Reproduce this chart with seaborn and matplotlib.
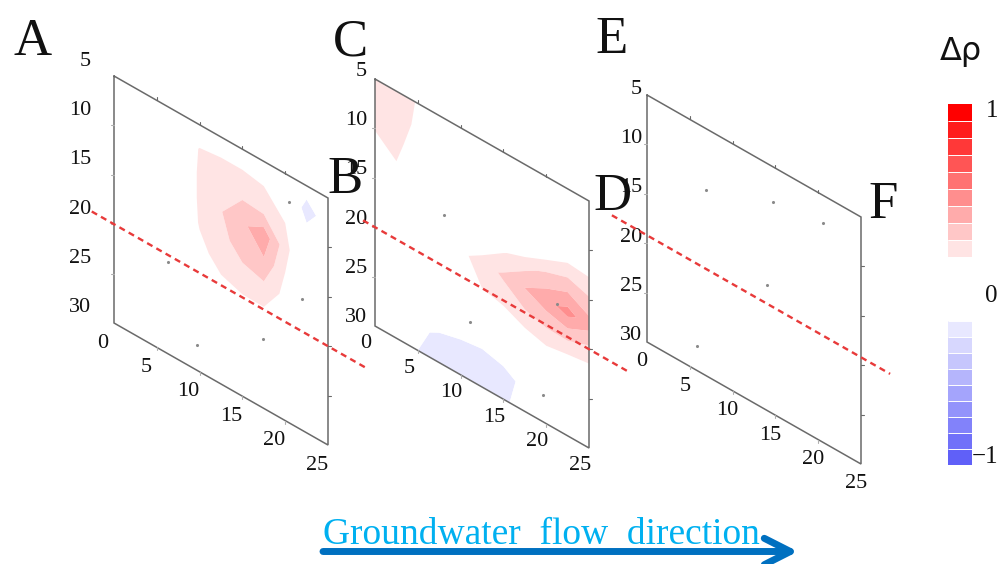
import numpy as np
import matplotlib
matplotlib.use("Agg")
import matplotlib.pyplot as plt
from matplotlib.transforms import Affine2D
from matplotlib.colors import ListedColormap, BoundaryNorm
from matplotlib.cm import ScalarMappable
import seaborn as sns

# ------------------------------------------------------------------ data
panel_labels = ["A", "C", "E"]
corner_labels = ["B", "D", "F"]
x_ticks = [0, 5, 10, 15, 20, 25]          # horizontal distance
depth_ticks = [5, 10, 15, 20, 25, 30]     # depth axis
grid_x = [0, 2.5, 5, 7.5, 10, 12.5, 15, 17.5, 20, 22.5, 25]
grid_depth = [5, 7.5, 10, 12.5, 15, 17.5, 20, 22.5, 25, 27.5, 30]

# delta rho (rows = depth, cols = x)
drho_A = [
    [0, 0, 0, 0, 0, 0, 0, 0, 0, -0.10, 0],
    [0, 0, 0, 0, 0.16, 0.18, 0.18, 0.15, 0.05, -0.28, -0.10],
    [0, 0, 0, 0.02, 0.17, 0.22, 0.24, 0.22, 0.15, -0.12, 0],
    [0, 0, 0, 0.02, 0.17, 0.24, 0.32, 0.40, 0.19, 0, 0],
    [0, 0, 0, 0.02, 0.16, 0.22, 0.28, 0.33, 0.15, 0, 0],
    [0, 0, 0, 0, 0.12, 0.19, 0.22, 0.23, 0.12, 0, 0],
    [0, 0, 0, 0, 0.02, 0.12, 0.14, 0.14, 0.05, 0, 0],
    [0, 0, 0, 0, 0, 0, 0, 0, 0, 0, 0],
    [0, 0, 0, 0, 0, 0, 0, 0, 0, 0, 0],
    [0, 0, 0, 0, 0, 0, 0, 0, 0, 0, 0],
    [0, 0, 0, 0, 0, 0, 0, 0, 0, 0, 0],
]
drho_C = [
    [0.22, 0.22, 0.14, 0, 0, 0, 0, 0, 0, 0, 0],
    [0.20, 0.22, 0.12, 0, 0, 0, 0, 0, 0, 0, 0],
    [0.16, 0.20, 0.05, 0, 0, 0, 0, 0, 0, 0, 0],
    [0.05, 0.14, 0, 0, 0, 0, 0, 0, 0.08, 0.15, 0.14],
    [0, 0, 0, 0, 0, 0.05, 0.14, 0.20, 0.27, 0.31, 0.26],
    [0, 0, 0, 0, 0.12, 0.20, 0.26, 0.34, 0.40, 0.47, 0.38],
    [0, 0, 0, 0, 0.06, 0.15, 0.18, 0.23, 0.26, 0.27, 0.22],
    [0, 0, 0, 0, 0, 0, 0.04, 0.10, 0.13, 0.10, 0.10],
    [0, 0, 0, -0.05, -0.12, -0.15, -0.12, 0, 0, 0, 0],
    [0, 0, -0.15, -0.24, -0.26, -0.26, -0.24, -0.17, 0, 0, 0],
    [0, -0.05, -0.20, -0.25, -0.26, -0.26, -0.24, -0.10, 0, 0, 0],
]
drho_E = [
    [0, 0, 0, 0, 0, 0, 0, 0, 0, 0, 0],
    [0, 0, 0, 0, 0, 0, 0, 0, 0, 0, 0],
    [0, 0, 0, 0, 0, 0, 0, 0, 0, 0, 0],
    [0, 0, 0, 0, 0, 0, 0, 0, 0, 0, 0],
    [0, 0, 0, 0, 0, 0, 0, 0, 0, 0, 0],
    [0, 0, 0, 0, 0, 0, 0, 0, 0, 0, 0],
    [0, 0, 0, 0, 0, 0, 0, 0, 0, 0, 0],
    [0, 0, 0, 0, 0, 0, 0, 0, 0, 0, 0],
    [0, 0, 0, 0, 0, 0, 0, 0, 0, 0, 0],
    [0, 0, 0, 0, 0, 0, 0, 0, 0, 0, 0],
    [0, 0, 0, 0, 0, 0, 0, 0, 0, 0, 0],
]
fields = [drho_A, drho_C, drho_E]

# dashed interface line (depth and x-extent) per panel
interface_depth = [20.0, 20.0, 19.2]
interface_x_start = [-2.6, -1.4, -4.1]
interface_x_end = [29.7, 29.6, 28.4]

# small measurement marks
marks_x = [[20.4, 22.0, 9.7, 17.4, 6.3],
           [8.1, 11.1, 19.6, 21.3],
           [6.9, 14.7, 20.6, 14.0, 5.8]]
marks_depth = [[7.7, 16.7, 27.4, 23.0, 20.7],
               [14.8, 24.1, 27.3, 17.3],
               [11.2, 8.6, 7.8, 17.3, 27.5]]

cbar_ticks = [1, 0, -1]
cbar_tick_labels = ["1", "0", "\u22121"]
cbar_title = "\u0394\u03c1"
flow_label = "Groundwater  flow  direction"

# ------------------------------------------------------------------ style / layout
W, H = 1007, 564
SERIF = "Liberation Serif"
sns.set_theme(style="white")
plt.rcParams["font.family"] = [SERIF, "DejaVu Sans"]

fig = plt.figure(figsize=(W / 100, H / 100), dpi=100)
ax = fig.add_axes([0, 0, 1, 1])

# panel geometry in pixels (top-left corner = x 0, depth 5)
origins = [(114, 76), (375, 79), (647, 95)]
ux, uy, dy = 8.56, 4.88, 9.88
left_off = [(-23, -15), (-8, -8), (-5, -6)]
bottom_off = [(-11, 20), (-9, 18), (-5, 20)]
panel_label_pos = [(13, 55), (333, 55), (595, 53)]
corner_label_pos = [(327, 193), (593, 210), (868, 218)]

blue_pal = sns.blend_palette(["#6060F8", "#E8E8FF"], 9)
red_pal = sns.blend_palette(["#FFE4E4", "#FF0000"], 9)
colors = list(blue_pal) + ["#FFFFFF"] + list(red_pal)
levels = list(np.linspace(-1, -0.2, 10)) + list(np.linspace(0.15, 1, 10))

GX, GD = np.meshgrid(grid_x, grid_depth)
frame_color = "#6a6a6a"

for k in range(3):
    x0, y0 = origins[k]
    T = Affine2D(np.array([[ux, 0, x0], [uy, dy, y0 - dy * 5], [0, 0, 1]]))
    tr = T + ax.transData

    ax.contourf(GX, GD, np.array(fields[k]), levels=levels, colors=colors,
                transform=tr, zorder=1, antialiased=True)

    # frame
    fx = [0, 25, 25, 0, 0]
    fd = [5, 5, 30, 30, 5]
    ax.plot(fx, fd, color=frame_color, lw=1.1, transform=tr, zorder=3,
            solid_joinstyle="miter")

    # small ticks on the edges
    for u in x_ticks[1:-1]:
        p = T.transform((u, 5))
        ax.plot([p[0], p[0]], [p[1], p[1] - 3], color=frame_color, lw=0.8, zorder=3)
        p = T.transform((u, 30))
        ax.plot([p[0], p[0]], [p[1], p[1] + 3], color="#b0b0b0", lw=0.8, zorder=3)
    for d in depth_ticks[1:-1]:
        p = T.transform((25, d))
        ax.plot([p[0], p[0] + 3], [p[1], p[1]], color=frame_color, lw=0.8, zorder=3)
        p = T.transform((0, d))
        ax.plot([p[0] - 3, p[0]], [p[1], p[1]], color="#b0b0b0", lw=0.8, zorder=3)

    # depth labels
    for d in depth_ticks:
        p = T.transform((0, d))
        ax.text(p[0] + left_off[k][0], p[1] + left_off[k][1], str(d),
                ha="right", va="center", fontsize=16, family=SERIF, color="#111111",
                zorder=4)
    # distance labels
    for u in x_ticks:
        p = T.transform((u, 30))
        ax.text(p[0] + bottom_off[k][0], p[1] + bottom_off[k][1], str(u),
                ha="center", va="center", fontsize=16, family=SERIF, color="#111111",
                zorder=4)

    # interface dashed line
    pts = T.transform(np.array([[interface_x_start[k], interface_depth[k]],
                                [interface_x_end[k], interface_depth[k]]]))
    sns.lineplot(x=pts[:, 0], y=pts[:, 1], ax=ax, color="#E83A3A", lw=1.7,
                 linestyle=(0, (2.6, 1.9)), zorder=5, legend=False)

    # measurement marks
    mp = T.transform(np.column_stack([marks_x[k], marks_depth[k]]))
    sns.scatterplot(x=mp[:, 0], y=mp[:, 1], ax=ax, s=5, color="#8a8a8a",
                    linewidth=0, zorder=4, legend=False)

    ax.text(*panel_label_pos[k], panel_labels[k], fontsize=38, family=SERIF,
            ha="left", va="baseline", color="#111111", zorder=6)
    ax.text(*corner_label_pos[k], corner_labels[k], fontsize=38, family=SERIF,
            ha="left", va="baseline", color="#111111", zorder=6)

# ------------------------------------------------------------------ colorbar
cax = fig.add_axes([948 / W, (H - 465) / H, 24 / W, 361 / H])
norm = BoundaryNorm(levels, ncolors=len(colors))
sm = ScalarMappable(norm=norm, cmap=ListedColormap(colors))
cb = fig.colorbar(sm, cax=cax, spacing="proportional", drawedges=True)
cb.outline.set_visible(False)
cb.dividers.set_color("white")
cb.dividers.set_linewidth(0.7)
cb.set_ticks([])
cb.minorticks_off()
cax.tick_params(which="both", length=0)
cbar_label_y = [111, 296, 457]
for v, lab, yy in zip(cbar_ticks, cbar_tick_labels, cbar_label_y):
    ax.text(998, yy, lab, ha="right", va="center", fontsize=18, family=SERIF,
            color="#111111")
ax.text(940, 60, cbar_title, ha="left", va="baseline", fontsize=23,
        family="DejaVu Sans", color="#111111")

# ------------------------------------------------------------------ flow arrow
ax.annotate("", xy=(798, 551.5), xytext=(323, 551.5),
            arrowprops=dict(arrowstyle="->,head_length=0.75,head_width=0.38",
                            lw=5, color="#0070C0", shrinkA=0, shrinkB=0,
                            mutation_scale=25))
ax.text(323, 544, flow_label, color="#00B0F0", fontsize=27, family=SERIF,
        ha="left", va="baseline")

ax.set_xlim(0, W)
ax.set_ylim(H, 0)
ax.axis("off")
fig.savefig("out.png", dpi=100)
